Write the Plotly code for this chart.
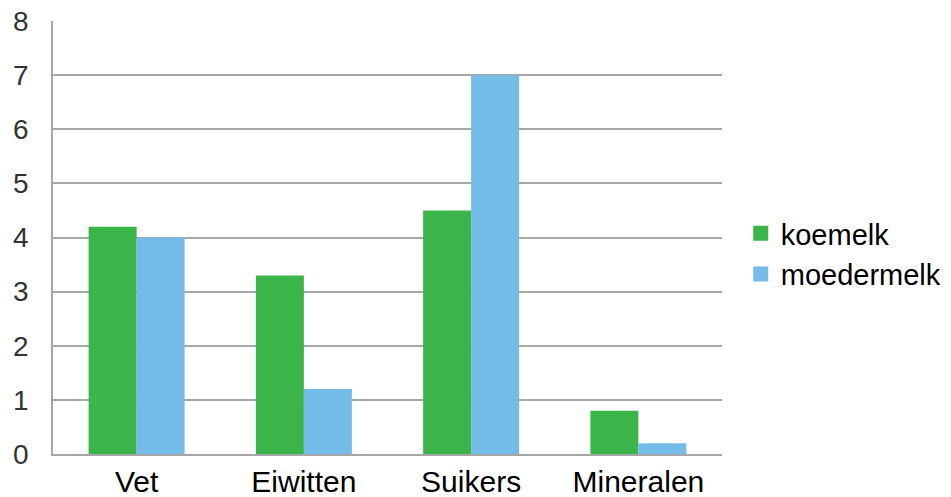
import plotly.graph_objects as go

categories = ["Vet", "Eiwitten", "Suikers", "Mineralen"]
koemelk = [4.2, 3.3, 4.5, 0.8]
moedermelk = [4.0, 1.2, 7.0, 0.2]
y_ticks = [0, 1, 2, 3, 4, 5, 6, 7, 8]

green = "#3BB44A"
blue = "#74BCE7"

fig = go.Figure()
fig.add_trace(go.Bar(x=categories, y=koemelk, name="koemelk", marker_color=green,
                     marker_line_width=0, showlegend=False))
fig.add_trace(go.Bar(x=categories, y=moedermelk, name="moedermelk", marker_color=blue,
                     marker_line_width=0, showlegend=False))
# legend entries with larger square swatches
fig.add_trace(go.Scatter(x=[None], y=[None], mode="markers", name="koemelk",
                         marker=dict(symbol="square", size=15, color=green)))
fig.add_trace(go.Scatter(x=[None], y=[None], mode="markers", name="moedermelk",
                         marker=dict(symbol="square", size=15, color=blue)))

fig.update_layout(
    width=951, height=497,
    margin=dict(l=53, r=229, t=21, b=43, autoexpand=False),
    paper_bgcolor="white", plot_bgcolor="white",
    barmode="group", bargap=0.426, bargroupgap=0,
    font=dict(family="Liberation Sans, Arial, sans-serif", color="black"),
    showlegend=True,
    legend=dict(x=1.028, y=0.462, xanchor="left", yanchor="middle",
                font=dict(size=29, color="black"), itemwidth=30,
                tracegroupgap=0, bgcolor="rgba(0,0,0,0)"),
    xaxis=dict(showgrid=False, showline=True, linecolor="#A6A6A6", linewidth=1.5,
               ticks="", tickfont=dict(size=30, color="black"), ticklabelstandoff=0,
               automargin=False),
    yaxis=dict(range=[0, 8], tickvals=y_ticks, showgrid=True, gridcolor="#A6A6A6",
               gridwidth=1.5, showline=True, linecolor="#A6A6A6", linewidth=1.5,
               zeroline=False, ticks="", tickfont=dict(size=28, color="#333333"),
               ticklabelstandoff=17, automargin=False),
)

fig.write_html(
    "out.html",
    config={"displayModeBar": False},
    post_script="document.body.style.margin='0';document.body.style.overflow='hidden';",
)
